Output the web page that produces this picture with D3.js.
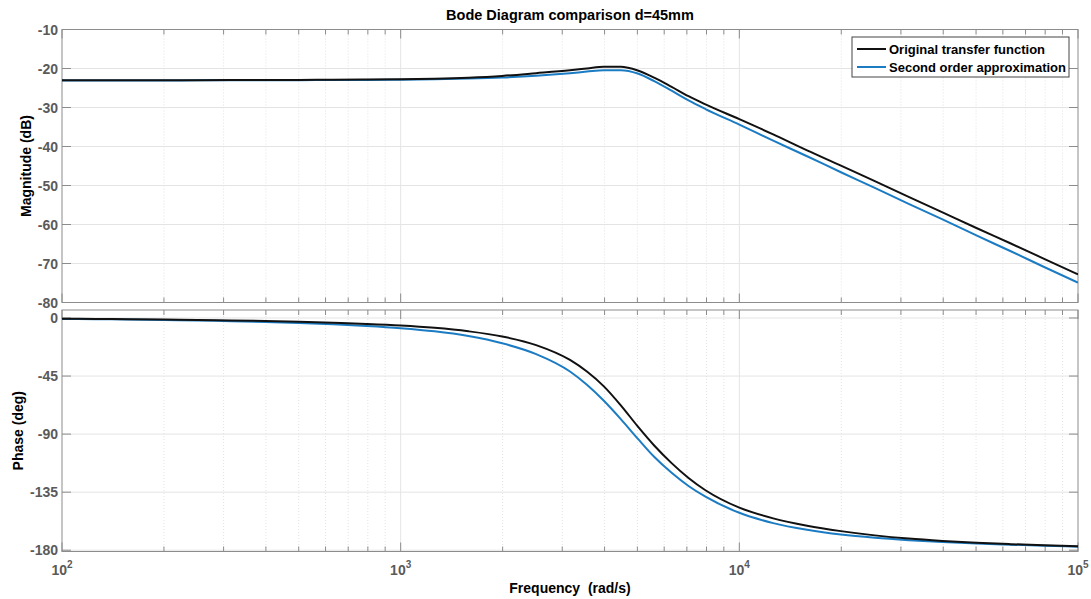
<!DOCTYPE html>
<html>
<head>
<meta charset="utf-8">
<script src="https://cdn.jsdelivr.net/npm/d3@7"></script>
<style>
  body { margin: 0; background: #fff; }
  svg { font-family: "Liberation Sans", Arial, sans-serif; }
  .tick-label { font-size: 14px; font-weight: bold; fill: #5a5a5a; }
  .lbl { font-size: 14px; font-weight: bold; fill: #000; }
</style>
</head>
<body>
<svg id="chart" width="1091" height="599"></svg>
<script>
// values (rad/s, dB, deg)
var freq = [100, 126, 158, 200, 251, 316, 398, 501, 631, 794,
            1000, 1259, 1585, 1995, 2512, 3162, 3548, 3981, 4467, 5012, 5623, 6310, 7079, 7943,
            10000, 12589, 15849, 19953, 25119, 31623, 39811, 50119, 63096, 79433, 100000];

var magOriginal = [-23.0, -23.0, -23.0, -23.0, -22.99, -22.98, -22.96, -22.93, -22.89, -22.84,
                   -22.77, -22.62, -22.35, -21.9, -21.2, -20.45, -20.0, -19.55, -19.55, -20.5, -22.4, -24.7, -27.1, -29.2,
                   -33.0, -36.9, -41.0, -44.9, -48.9, -52.9, -56.9, -60.9, -64.8, -68.8, -72.8];
var magApprox   = [-23.05, -23.05, -23.05, -23.05, -23.04, -23.03, -23.01, -22.99, -22.96, -22.93,
                   -22.88, -22.76, -22.58, -22.3, -21.85, -21.2, -20.8, -20.45, -20.45, -21.3, -23.3, -25.7, -28.2, -30.4,
                   -34.4, -38.5, -42.5, -46.6, -50.6, -54.7, -58.7, -62.8, -66.8, -70.9, -74.9];

var phaseOriginal = [-0.6, -0.75, -0.95, -1.2, -1.5, -1.85, -2.35, -2.95, -3.7, -4.6,
                     -5.8, -7.6, -10.3, -14.3, -21.0, -32.5, -41.5, -53.0, -67.7, -84.0, -99.2, -112.5, -124.0, -133.5,
                     -147.0, -155.3, -161.0, -165.2, -168.5, -171.0, -172.8, -174.2, -175.3, -176.2, -176.9];
var phaseApprox   = [-0.75, -0.95, -1.2, -1.55, -1.95, -2.45, -3.1, -3.9, -4.9, -6.2,
                     -7.9, -10.3, -14.0, -19.6, -28.0, -41.5, -51.8, -64.2, -78.4, -93.5, -108.0, -120.0, -130.2, -138.5,
                     -151.0, -159.0, -164.2, -167.9, -170.4, -172.2, -173.6, -174.75, -175.7, -176.55, -177.3];

var magTicks = [-80, -70, -60, -50, -40, -30, -20, -10];
var phaseTicks = [-180, -135, -90, -45, 0];
var decades = [2, 3, 4, 5];

var seriesNames = ["Original transfer function", "Second order approximation"];
var seriesColors = ["#111111", "#1b7cc4"];

var svg = d3.select("#chart");

var left = 62, right = 1078;
var x = d3.scaleLog().domain([100, 100000]).range([left, right]);
var yMag = d3.scaleLinear().domain([-80, -10]).range([302.5, 29.5]);
var yPh = d3.scaleLinear().domain([-181, 6.2]).range([551.5, 310]);

// minor tick positions 2..9 per decade
var minor = [];
decades.slice(0, 3).forEach(function(e) {
  for (var k = 2; k <= 9; k++) minor.push(k * Math.pow(10, e));
});
var majors = decades.map(function(e) { return Math.pow(10, e); });

function drawPanel(y, ticks, series, title) {
  var r = y.range();
  var top = r[1], bottom = r[0];
  var g = svg.append("g");

  // grid
  g.selectAll(".minor-grid").data(minor).enter().append("line")
    .attr("x1", function(d) { return x(d); }).attr("x2", function(d) { return x(d); })
    .attr("y1", top).attr("y2", bottom)
    .attr("stroke", "#dcdcdc").attr("stroke-width", 0.8).attr("stroke-dasharray", "1,2");
  g.selectAll(".major-grid").data(majors.slice(1, 3)).enter().append("line")
    .attr("x1", function(d) { return x(d); }).attr("x2", function(d) { return x(d); })
    .attr("y1", top).attr("y2", bottom)
    .attr("stroke", "#e4e4e4").attr("stroke-width", 1);
  g.selectAll(".h-grid").data(ticks).enter().append("line")
    .attr("x1", left).attr("x2", right)
    .attr("y1", function(d) { return y(d); }).attr("y2", function(d) { return y(d); })
    .attr("stroke", "#e4e4e4").attr("stroke-width", 1);

  // inward ticks
  [top, bottom].forEach(function(edge, i) {
    var dir = i == 0 ? 1 : -1;
    g.selectAll(null).data(minor).enter().append("line")
      .attr("x1", function(d) { return x(d); }).attr("x2", function(d) { return x(d); })
      .attr("y1", edge).attr("y2", edge + dir * 5)
      .attr("stroke", "#8c8c8c");
    g.selectAll(null).data(majors).enter().append("line")
      .attr("x1", function(d) { return x(d); }).attr("x2", function(d) { return x(d); })
      .attr("y1", edge).attr("y2", edge + dir * 9)
      .attr("stroke", "#8c8c8c");
  });
  [left, right].forEach(function(edge, i) {
    var dir = i == 0 ? 1 : -1;
    g.selectAll(null).data(ticks).enter().append("line")
      .attr("x1", edge).attr("x2", edge + dir * 9)
      .attr("y1", function(d) { return y(d); }).attr("y2", function(d) { return y(d); })
      .attr("stroke", "#8c8c8c");
  });

  g.append("rect")
    .attr("x", left).attr("y", top)
    .attr("width", right - left).attr("height", bottom - top)
    .attr("fill", "none").attr("stroke", "#8c8c8c").attr("stroke-width", 1);

  // y tick labels
  g.selectAll(".tick-label").data(ticks).enter().append("text")
    .attr("class", "tick-label")
    .attr("x", left - 4).attr("y", function(d) { return y(d); })
    .attr("dy", "0.36em").attr("text-anchor", "end")
    .text(function(d) { return d; });

  // curves
  var line = d3.line()
    .curve(d3.curveMonotoneX)
    .x(function(d) { return x(d[0]); })
    .y(function(d) { return y(d[1]); });

  var clipId = "clip" + Math.round(top);
  svg.append("clipPath").attr("id", clipId).append("rect")
    .attr("x", left).attr("y", top).attr("width", right - left).attr("height", bottom - top);

  // approximation first, original on top
  [1, 0].forEach(function(i) {
    g.append("path")
      .datum(d3.zip(freq, series[i]))
      .attr("clip-path", "url(#" + clipId + ")")
      .attr("fill", "none")
      .attr("stroke", seriesColors[i])
      .attr("stroke-width", 2)
      .attr("d", line);
  });

  g.append("text")
    .attr("class", "lbl")
    .attr("transform", "translate(" + title.x + "," + (top + bottom) / 2 + ") rotate(-90)")
    .attr("text-anchor", "middle")
    .text(title.text);
}

drawPanel(yMag, magTicks, [magOriginal, magApprox], {text: "Magnitude (dB)", x: 31});
drawPanel(yPh, phaseTicks, [phaseOriginal, phaseApprox], {text: "Phase (deg)", x: 23});

// x tick labels under bottom panel
var xl = svg.selectAll(".xlab").data(decades).enter().append("text")
  .attr("class", "tick-label")
  .attr("x", function(d) { return x(Math.pow(10, d)); })
  .attr("y", 575)
  .attr("text-anchor", "middle");
xl.append("tspan").text("10");
xl.append("tspan").attr("dy", -7).style("font-size", "10px").text(function(d) { return d; });

svg.append("text")
  .attr("class", "lbl")
  .attr("x", 570).attr("y", 593)
  .attr("text-anchor", "middle")
  .style("white-space", "pre")
  .text("Frequency  (rad/s)");

svg.append("text")
  .attr("x", 570).attr("y", 20)
  .attr("text-anchor", "middle")
  .style("font-size", "14.5px").style("font-weight", "bold")
  .text("Bode Diagram comparison d=45mm");

// legend
var lg = svg.append("g");
lg.append("rect")
  .attr("x", 852).attr("y", 37).attr("width", 217).attr("height", 40)
  .attr("fill", "#fff").attr("stroke", "#444").attr("stroke-width", 1);
seriesNames.forEach(function(name, i) {
  var yy = 49 + i * 18;
  lg.append("line")
    .attr("x1", 857).attr("x2", 886).attr("y1", yy).attr("y2", yy)
    .attr("stroke", seriesColors[i]).attr("stroke-width", 2);
  lg.append("text")
    .attr("x", 889).attr("y", yy).attr("dy", "0.36em")
    .style("font-size", "13px").style("font-weight", "bold")
    .text(name);
});
</script>
</body>
</html>
